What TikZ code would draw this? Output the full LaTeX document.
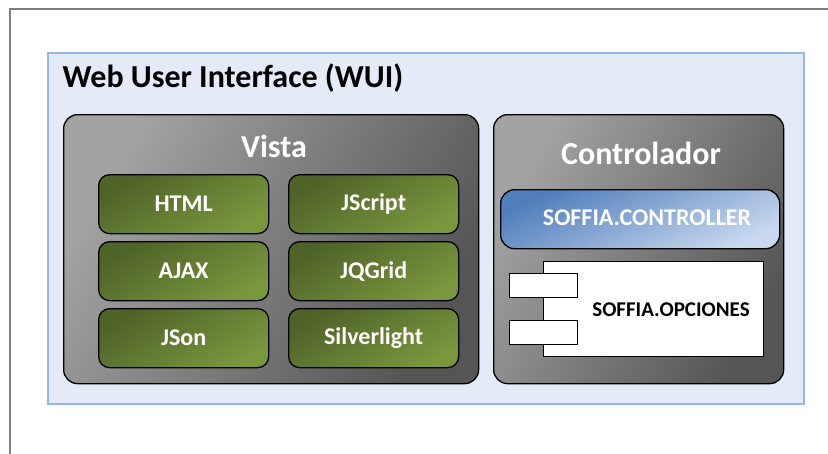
\documentclass[tikz,border=0pt]{standalone}
\usepackage{fontspec}
\setmainfont{Carlito}
\definecolor{frame}{HTML}{7F7F7F}
\definecolor{wuifill}{HTML}{E4EBF7}
\definecolor{wuiline}{HTML}{95B6E6}
\definecolor{greendark}{HTML}{4F6228}
\definecolor{greenlight}{HTML}{7A973E}
\definecolor{graylight}{HTML}{A3A3A3}
\definecolor{graydark}{HTML}{555555}
\definecolor{bluedark}{HTML}{4F7EBB}
\definecolor{bluelight}{HTML}{C9D8EE}
\tikzset{
  panel/.style={draw=black, line width=1.3pt, rounded corners=14pt,
    top color=graylight, bottom color=graydark, shading angle=60,
    anchor=north west, inner sep=0pt},
  tech/.style={draw=black, line width=1.3pt, rounded corners=11pt,
    top color=greendark, bottom color=greenlight, shading angle=30,
    minimum width=170pt, minimum height=59pt, text=white,
    font=\bfseries\fontsize{24}{28}\selectfont, anchor=north west, inner sep=0pt},
  ctrl/.style={draw=black, line width=1.3pt, rounded corners=14pt,
    top color=bluedark, bottom color=bluelight, shading angle=25,
    anchor=north west, inner sep=0pt},
  ctrltext/.style={text=white, font=\bfseries\fontsize{24}{28}\selectfont},
  comp/.style={draw=black, line width=1.1pt, fill=white, anchor=north west, inner sep=0pt},
  paneltitle/.style={text=white, font=\bfseries\fontsize{32}{38}\selectfont}
}
\begin{document}
\begin{tikzpicture}[x=1pt,y=-1pt]
\useasboundingbox (0,0) rectangle (828,453);
% open outer frame
\coordinate (ftl) at (10,9);
\coordinate (fr) at (830,9);
\coordinate (fb) at (10,455);
\draw[frame, line width=1.6pt] (fr) -- (ftl) -- (fb);
% web user interface container
\node[draw=wuiline, fill=wuifill, line width=2.4pt, anchor=north west,
  minimum width=756pt, minimum height=351pt, inner sep=0pt] (wui) at (47,52) {};
\node[anchor=west, font=\bfseries\fontsize{32}{38}\selectfont] (wuititle) at (59,78) {Web User Interface (WUI)};
% view panel
\node[panel, minimum width=415pt, minimum height=269pt] (vista) at (63,114) {};
\node[paneltitle] (vistatitle) at (274,146) {Vista};
\node[tech] (html) at (98,174) {HTML};
\node[tech] (jscript) at (288,174) {JScript};
\node[tech] (ajax) at (98,241) {AJAX};
\node[tech] (jqgrid) at (288,241) {JQGrid};
\node[tech] (json) at (98,308) {JSon};
\node[tech] (silver) at (288,308) {Silverlight};
% controller panel
\node[panel, minimum width=290pt, minimum height=269pt] (ctl) at (493,114) {};
\node[paneltitle] (ctltitle) at (641,153) {Controlador};
\node[ctrl, minimum width=279pt, minimum height=59pt] (sc) at (500,189) {};
\node[ctrltext] (sctext) at (647,218) {SOFFIA.CONTROLLER};
% component box
\node[comp, minimum width=220pt, minimum height=95pt] (opc) at (543,261) {};
\node[comp, minimum width=68pt, minimum height=24pt] (port1) at (509,273) {};
\node[comp, minimum width=68pt, minimum height=24pt] (port2) at (509,320) {};
\node[font=\bfseries\fontsize{21}{25}\selectfont] (opctext) at (671,310) {SOFFIA.OPCIONES};
\end{tikzpicture}
\end{document}
